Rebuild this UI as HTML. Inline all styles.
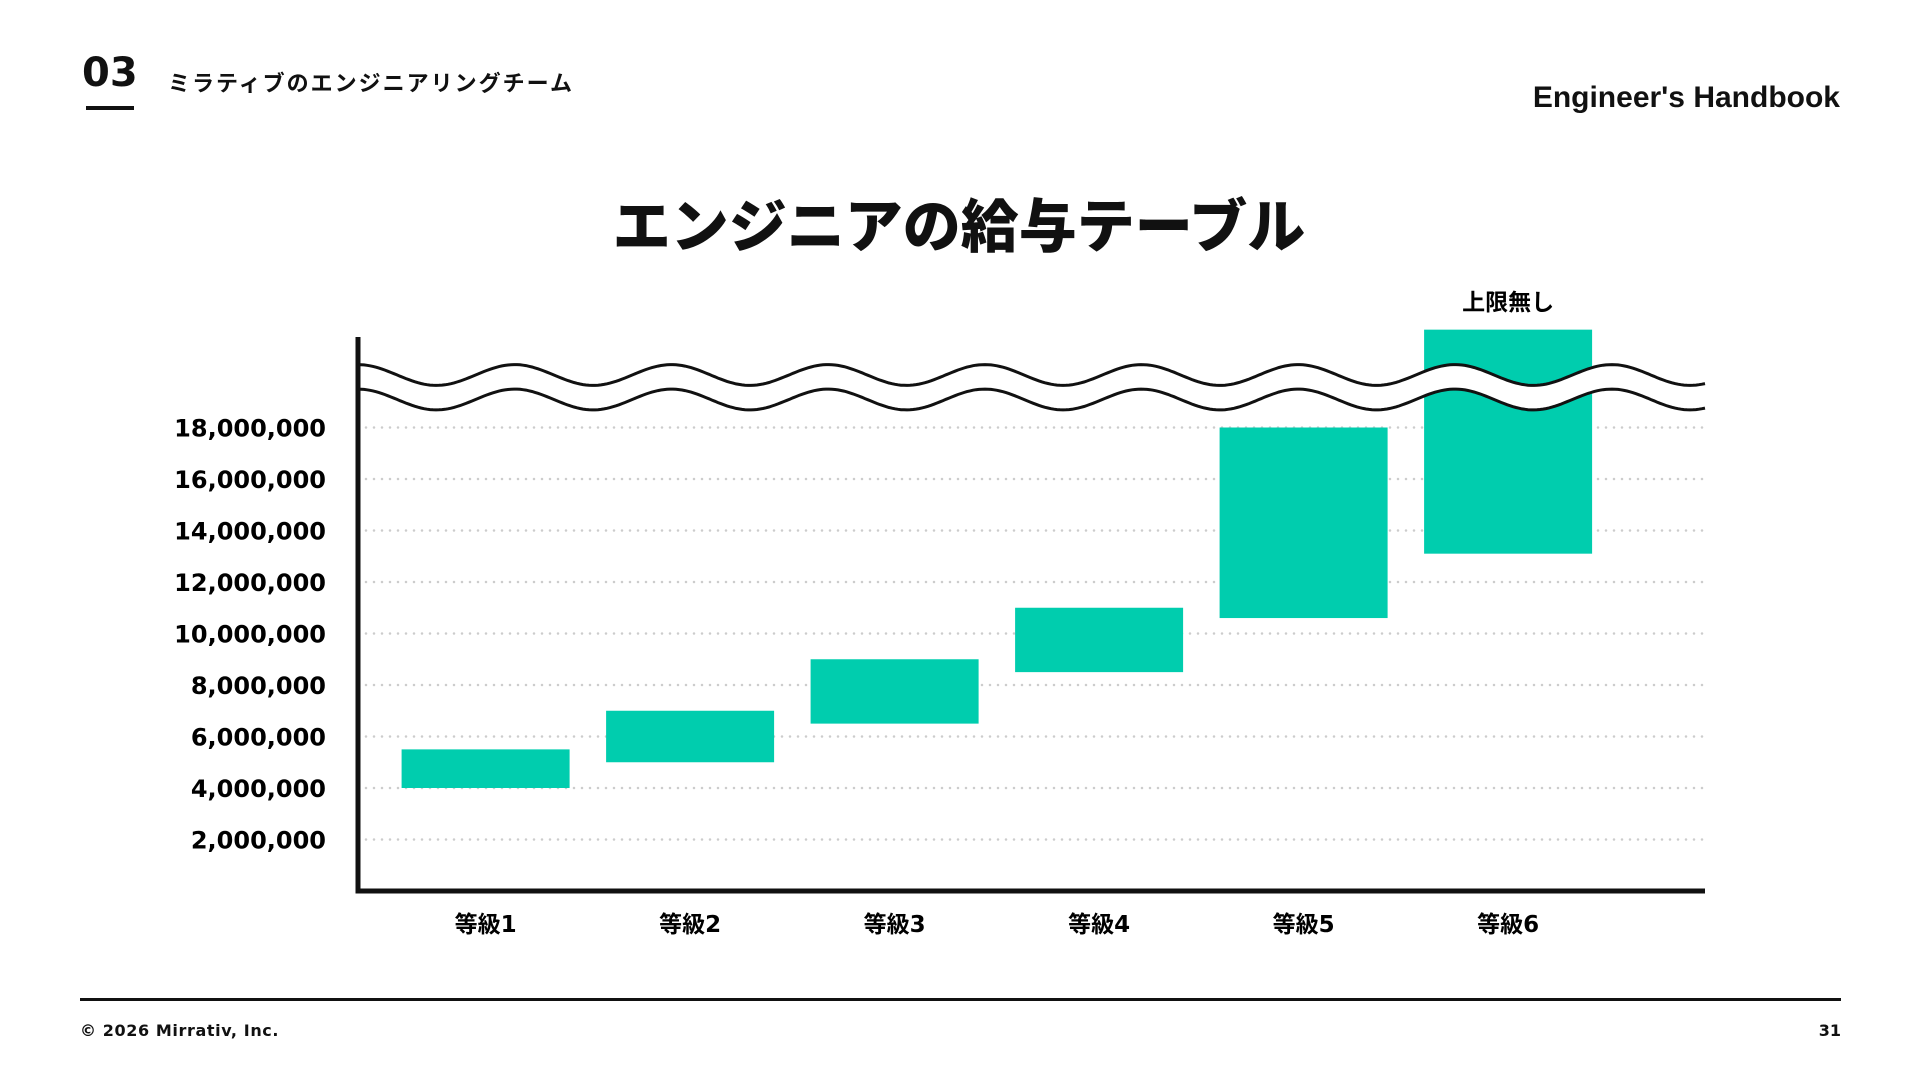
<!DOCTYPE html>
<html><head><meta charset="utf-8"><style>
body{margin:0;width:1920px;height:1080px;background:#fff;overflow:hidden;font-family:"Liberation Sans","Noto Sans CJK JP",sans-serif;color:#111}
.a{position:absolute;font-weight:bold;white-space:nowrap}
</style></head><body>
<div class="a" style="left:82px;top:50px;font-size:40px;font-family:'DejaVu Sans',sans-serif">03</div>
<div style="position:absolute;left:86px;top:106px;width:48px;height:4px;background:#111"></div>
<div class="a" style="left:168px;top:66px;font-size:22px;letter-spacing:2px">ミラティブのエンジニアリングチーム</div>
<div class="a" style="right:80px;top:81px;font-size:30px">Engineer's Handbook</div>
<div class="a" style="left:0;width:1918px;text-align:center;top:180px;font-size:58px;font-weight:900">エンジニアの給与テーブル</div>
<svg id="chart" width="1920" height="1080" style="position:absolute;left:0;top:0"></svg>
<div style="position:absolute;left:80px;top:998px;width:1761px;height:3px;background:#111"></div>
<div class="a" style="left:80px;top:1021px;font-size:16px;letter-spacing:0.6px;font-family:'DejaVu Sans',sans-serif">© 2026 Mirrativ, Inc.</div>
<div class="a" style="right:79px;top:1021px;font-size:16px;font-family:'DejaVu Sans',sans-serif">31</div>
<script>
const categories=["等級1","等級2","等級3","等級4","等級5","等級6"];
const lowValues=[4000000,5000000,6500000,8500000,10600000,13100000];
const highValues=[5500000,7000000,9000000,11000000,18000000,21800000];
const tickValues=[2000000,4000000,6000000,8000000,10000000,12000000,14000000,16000000,18000000];
const topLabel="上限無し";
const NS="http://www.w3.org/2000/svg";
const svg=document.getElementById('chart');
const X0=358,X1=1705,Y0=891,PXM=25.75/1e6;
const y=v=>Y0-v*PXM;
const bx=i=>401.6+i*204.5;
const BW=168;
function mk(t,a){const e=document.createElementNS(NS,t);for(const k in a)e.setAttribute(k,a[k]);svg.appendChild(e);return e;}
tickValues.forEach(v=>{
 const g=mk('line',{x1:X0+8,x2:X1,y1:y(v),y2:y(v),stroke:'#ccc','stroke-width':2.5,'stroke-dasharray':'0 8','stroke-linecap':'round'});
 
 
 const t=mk('text',{x:326,y:y(v)+9,'text-anchor':'end','font-size':24,'font-weight':'bold','font-family':'DejaVu Sans, sans-serif'});
 t.textContent=v.toLocaleString('en-US');
 
 
});
categories.forEach((c,i)=>{
 const top=y(highValues[i]);
 const r=mk('rect',{x:bx(i),y:top,width:BW,height:y(lowValues[i])-top,fill:'#00cdae'});
 
 
 const t=mk('text',{x:bx(i)+BW/2,y:932,'text-anchor':'middle','font-size':23,'font-weight':'bold','font-family':'DejaVu Sans, Noto Sans CJK JP, sans-serif'});
 t.textContent=c;
 
 
});
const tl=mk('text',{x:bx(5)+BW/2,y:310,'text-anchor':'middle','font-size':23,'font-weight':'bold','font-family':'Liberation Sans, Noto Sans CJK JP, sans-serif'});
tl.textContent=topLabel;


function wave(off){let d='';for(let x=X0;x<=X1;x+=3){const yy=375+off-10.4*Math.cos(2*Math.PI*(x-X0)/156.7);d+=(x===X0?'M':'L')+x+','+yy.toFixed(1);}return d;}
let fill=wave(0);
let back='';for(let x=X1;x>=X0;x-=3){const yy=399.5-10.4*Math.cos(2*Math.PI*(x-X0)/156.7);back+='L'+x+','+yy.toFixed(1);}
const wf=mk('path',{d:fill+back+'Z',fill:'#fff'});


[0,24.5].forEach(o=>{const p=mk('path',{d:wave(o),fill:'none',stroke:'#111','stroke-width':3});
 
 });
const ya=mk('line',{x1:X0,x2:X0,y1:337,y2:Y0+2,stroke:'#111','stroke-width':5});


const xa=mk('line',{x1:X0-2.5,x2:X1,y1:Y0,y2:Y0,stroke:'#111','stroke-width':5});


</script>
</body></html>
